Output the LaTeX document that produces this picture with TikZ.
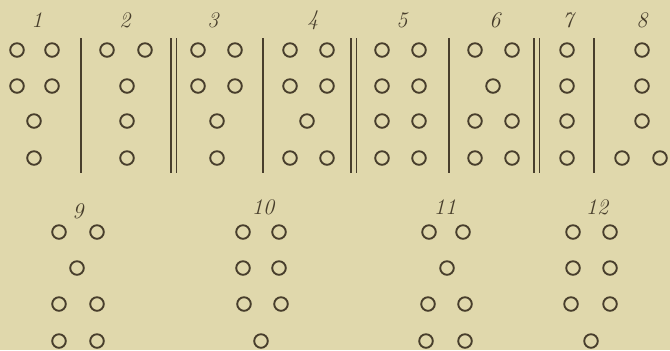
\documentclass[tikz,border=0pt]{standalone}
\usepackage{xcolor}
\usepackage{tikz}
\definecolor{paper}{RGB}{224,216,172}
\definecolor{ink}{RGB}{72,62,44}

\begin{document}
\begin{tikzpicture}[x=0.03cm,y=-0.03cm,font=\fontsize{19}{21}\selectfont\itshape]
  \tikzset{
    dot/.style={draw=ink,line width=1.6pt},
    bar/.style={draw=ink,line width=1.3pt},
    num/.style={text=ink,inner sep=0pt}
  }
  % ---- page ----
  \fill[paper] (0,0) rectangle (670,350);
  \useasboundingbox (0,0) rectangle (670,350);
  % ---- upper row: numbers ----
  \foreach \x/\t in {37/1, 125/2, 213/3, 313/4, 402/5, 495/6, 568/7, 642/8}{
      \node[num] (n\t) at (\x,20) {\t};}
  % ---- upper row: separators ----
  \foreach \x in {81, 263, 449, 594}{
      \draw[bar] (\x,38) -- (\x,173);}
  \foreach \x in {171, 351, 534}{
      \draw[bar] (\x,38) -- (\x,173)  (\x+5.5,38) -- (\x+5.5,173);}
  % ---- upper row: dots (x/y) ----
  \foreach \x/\y in {17/50, 52/50, 17/86, 52/86, 34/121, 34/158,   % 1
                     107/50, 145/50, 127/86, 127/121, 127/158,     % 2
                     198/50, 235/50, 198/86, 235/86, 217/121, 217/158}{ % 3
      \draw[dot] (\x,\y) circle (6.8);}
  \foreach \x/\y in {290/50, 327/50, 290/86, 327/86, 307/121, 290/158, 327/158, % 4
                     382/50, 419/50, 382/86, 419/86, 382/121, 419/121, 382/158, 419/158}{ % 5
      \draw[dot] (\x,\y) circle (6.8);}
  \foreach \x/\y in {475/50, 512/50, 493/86, 475/121, 512/121, 475/158, 512/158, % 6
                     567/50, 567/86, 567/121, 567/158,                           % 7
                     642/50, 642/86, 642/121, 622/158, 660/158}{                 % 8
      \draw[dot] (\x,\y) circle (6.8);}
  % ---- lower row: numbers ----
  \foreach \x/\y/\t in {78/211/9, 263/207/10, 445/207/11, 597/207/12}{
      \node[num] (n\t) at (\x,\y) {\t};}
  % ---- lower row: dots ----
  \foreach \x/\y in {59/232, 97/232, 77/268, 59/304, 97/304, 59/341, 97/341,     % 9
                     243/232, 279/232, 243/268, 279/268, 244/304, 281/304, 261/341}{ % 10
      \draw[dot] (\x,\y) circle (6.8);}
  \foreach \x/\y in {429/232, 463/232, 447/268, 428/304, 465/304, 426/341, 465/341, % 11
                     573/232, 610/232, 573/268, 610/268, 571/304, 610/304, 591/341}{ % 12
      \draw[dot] (\x,\y) circle (6.8);}
\end{tikzpicture}
\end{document}
